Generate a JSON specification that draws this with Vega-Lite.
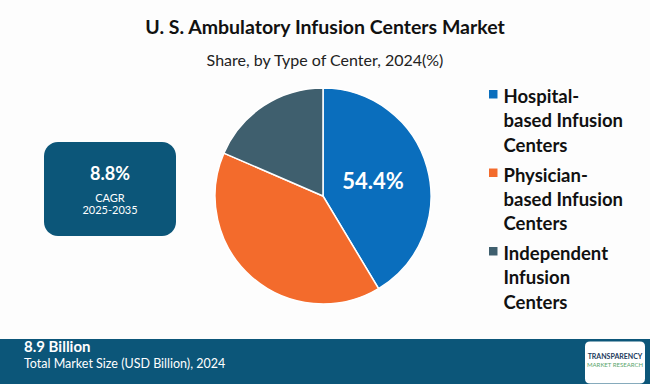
{
  "$schema": "https://vega.github.io/schema/vega-lite/v6.json",
  "background": "#fdfdfd",
  "padding": {"left": 0, "right": 0, "top": 17, "bottom": 0},
  "title": {
    "text": "U. S. Ambulatory Infusion Centers Market",
    "subtitle": "Share, by Type of Center, 2024(%)",
    "anchor": "middle",
    "frame": "bounds",
    "font": "Lato",
    "fontSize": 19.5,
    "fontWeight": "bold",
    "color": "#111111",
    "subtitleFont": "Lato",
    "subtitleFontSize": 16,
    "subtitleColor": "#222222",
    "subtitlePadding": 15,
    "offset": 15
  },
  "datasets": {
    "shares": [
      {"segment": "Hospital-based Infusion Centers", "share": 41.4, "label": "54.4%"},
      {"segment": "Physician-based Infusion Centers", "share": 40.1, "label": ""},
      {"segment": "Independent Infusion Centers", "share": 18.5, "label": ""}
    ],
    "cagr": [
      {"line": 1, "text": "8.8%"},
      {"line": 2, "text": "CAGR"},
      {"line": 3, "text": "2025-2035"}
    ],
    "market": [
      {"line": 1, "text": "8.9 Billion"},
      {"line": 2, "text": "Total Market Size (USD Billion), 2024"}
    ],
    "logo": [
      {"line": 1, "text": "TRANSPARENCY"},
      {"line": 2, "text": "MARKET RESEARCH"}
    ]
  },
  "spacing": 32,
  "resolve": {"scale": {"color": "independent"}, "legend": {"color": "independent"}},
  "vconcat": [
    {
      "spacing": 36,
      "resolve": {"scale": {"color": "independent"}, "legend": {"color": "independent"}},
      "hconcat": [
        {
          "width": 8,
          "height": 1,
          "data": {"name": "cagr"},
          "mark": {"type": "point", "opacity": 0, "size": 1},
          "encoding": {}
        },
        {
          "spacing": 53,
          "vconcat": [
            {
              "width": 132,
              "height": 1,
              "data": {"name": "cagr"},
              "mark": {"type": "point", "opacity": 0, "size": 1},
              "encoding": {}
            },
            {
              "width": 132,
              "height": 94,
              "view": {"fill": "#0c5679", "cornerRadius": 14, "stroke": null},
              "data": {"name": "cagr"},
              "encoding": {
                "y": {"field": "line", "type": "quantitative", "scale": {"domain": [1, 2, 3], "range": [33, 57, 69]}, "axis": null},
                "text": {"field": "text"}
              },
              "layer": [
                {
                  "transform": [{"filter": "datum.line == 1"}],
                  "mark": {"type": "text", "font": "Lato", "fontSize": 18, "fontWeight": "bold", "color": "#ffffff", "baseline": "middle"}
                },
                {
                  "transform": [{"filter": "datum.line > 1"}],
                  "mark": {"type": "text", "font": "Lato", "fontSize": 11, "color": "#ffffff", "baseline": "middle"}
                }
              ]
            }
          ]
        },
        {
          "width": 216,
          "height": 216,
          "data": {"name": "shares"},
          "transform": [{"window": [{"op": "row_number", "as": "rank"}]}],
          "encoding": {
            "theta": {"field": "share", "type": "quantitative", "stack": true},
            "order": {"field": "rank", "type": "quantitative"}
          },
          "layer": [
            {
              "mark": {"type": "arc", "stroke": "#ffffff", "strokeWidth": 1.5},
              "encoding": {
                "color": {
                  "field": "segment",
                  "type": "nominal",
                  "sort": ["Hospital-based Infusion Centers", "Physician-based Infusion Centers", "Independent Infusion Centers"],
                  "scale": {
                    "domain": ["Hospital-based Infusion Centers", "Physician-based Infusion Centers", "Independent Infusion Centers"],
                    "range": ["#0a6ebd", "#f36b2c", "#3f5f6e"]
                  },
                  "legend": {
                    "title": null,
                    "orient": "right",
                    "offset": 62,
                    "padding": -9,
                    "symbolType": "M -1,0.414 L 1,0.414 L 1,2.414 L -1,2.414 Z",
                    "symbolSize": 72,
                    "symbolStrokeWidth": 0,
                    "labelFont": "Lato",
                    "labelFontSize": 18.5,
                    "labelFontWeight": "bold",
                    "labelColor": "#111111",
                    "labelOffset": 1,
                    "labelLimit": 200,
                    "rowPadding": 1.5,
                    "labelBaseline": "top",
                    "labelExpr": "datum.label == 'Hospital-based Infusion Centers' ? ['Hospital-', 'based Infusion', 'Centers'] : datum.label == 'Physician-based Infusion Centers' ? ['Physician-', 'based Infusion', 'Centers'] : ['Independent', 'Infusion', 'Centers']"
                  }
                }
              }
            },
            {
              "mark": {"type": "text", "radius": 52, "font": "Lato", "fontSize": 22, "fontWeight": "bold", "color": "#ffffff"},
              "encoding": {
                "text": {"field": "label"}
              }
            }
          ]
        }
      ]
    },
    {
      "spacing": 0,
      "hconcat": [
        {
          "width": 580,
          "height": 47,
          "view": {"fill": "#0c5679", "stroke": null},
          "data": {"name": "market"},
          "encoding": {
            "x": {"datum": 0, "type": "quantitative", "scale": {"domain": [0, 1], "range": [24, 580]}, "axis": null},
            "y": {"field": "line", "type": "quantitative", "scale": {"domain": [1, 2], "range": [8, 25]}, "axis": null},
            "text": {"field": "text"}
          },
          "layer": [
            {
              "transform": [{"filter": "datum.line == 1"}],
              "mark": {"type": "text", "align": "left", "baseline": "middle", "font": "Lato", "fontSize": 15, "fontWeight": "bold", "color": "#ffffff"}
            },
            {
              "transform": [{"filter": "datum.line == 2"}],
              "mark": {"type": "text", "align": "left", "baseline": "middle", "font": "Lato", "fontSize": 12.5, "color": "#ffffff"}
            }
          ]
        },
        {
          "width": 70,
          "height": 47,
          "view": {"fill": "#0c5679", "stroke": null},
          "data": {"name": "logo"},
          "layer": [
            {
              "transform": [{"filter": "datum.line == 1"}],
              "mark": {
                "type": "point",
                "filled": true,
                "color": "#ffffff",
                "opacity": 1,
                "size": 3600,
                "shape": "M -0.83,-0.7 L 0.83,-0.7 Q 1,-0.7 1,-0.53 L 1,0.53 Q 1,0.7 0.83,0.7 L -0.83,0.7 Q -1,0.7 -1,0.53 L -1,-0.53 Q -1,-0.7 -0.83,-0.7 Z"
              },
              "encoding": {}
            },
            {
              "transform": [{"filter": "datum.line == 1"}],
              "mark": {"type": "text", "baseline": "middle", "font": "Lato", "fontSize": 7, "fontWeight": "bold", "color": "#1b3a5c"},
              "encoding": {
                "y": {"field": "line", "type": "quantitative", "scale": {"domain": [1, 2], "range": [18, 26]}, "axis": null},
                "text": {"field": "text"}
              }
            },
            {
              "transform": [{"filter": "datum.line == 2"}],
              "mark": {"type": "text", "baseline": "middle", "font": "Lato", "fontSize": 6, "color": "#5aa56b"},
              "encoding": {
                "y": {"field": "line", "type": "quantitative", "scale": {"domain": [1, 2], "range": [18, 26]}, "axis": null},
                "text": {"field": "text"}
              }
            }
          ]
        }
      ]
    }
  ],
  "config": {
    "view": {"stroke": null},
    "style": {"guide-label": {"lineHeight": 24.2}}
  }
}
